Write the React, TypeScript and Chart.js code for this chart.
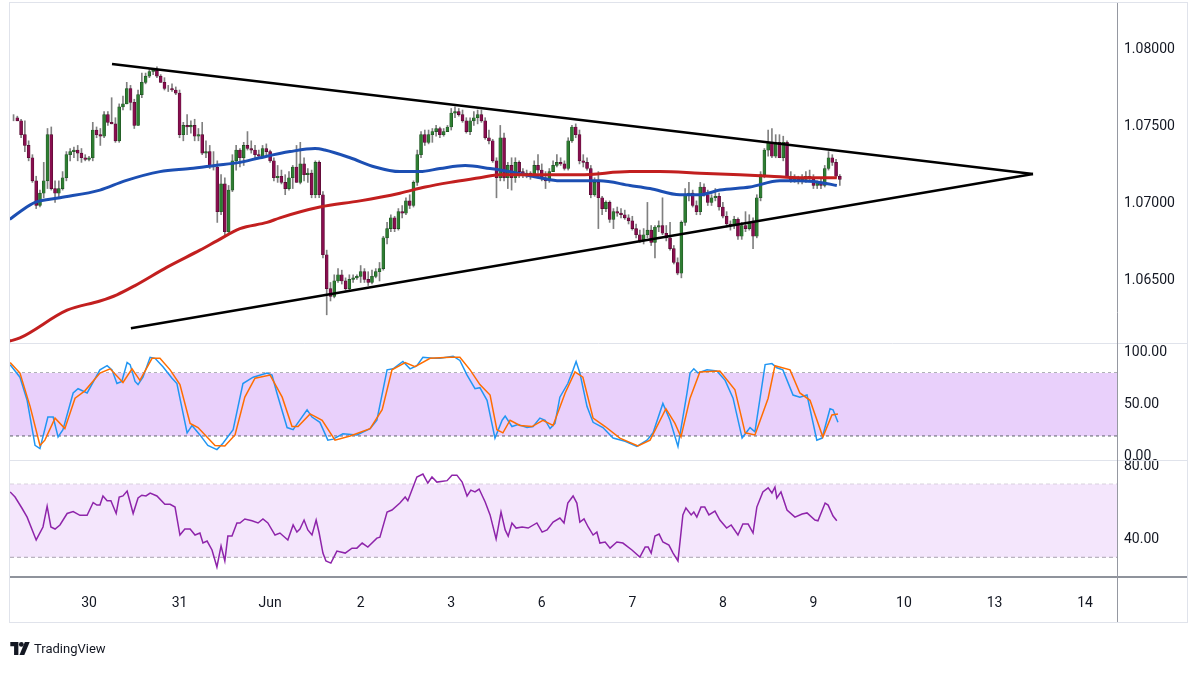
import React, { useEffect, useRef } from 'react';
import { Chart, registerables } from 'chart.js';

Chart.register(...registerables);

// ---------- axis ranges (hours since 30 May 00:00) ----------
const X_MIN = -20.94;
const X_MAX = 272.46;
const PRICE_MIN = 1.06097;
const PRICE_MAX = 1.08305;
const STOCH_MIN = -2.9;
const STOCH_MAX = 108.6;
const RSI_MIN = 19.2;
const RSI_MAX = 83.3;

// ---------- tick labels ----------
const dayTickHours = [0, 24, 48, 72, 96, 120, 144, 168, 192, 216, 240, 264];
const dayLabels = ['30', '31', 'Jun', '2', '3', '6', '7', '8', '9', '10', '13', '14'];
const priceTicks = [1.065, 1.07, 1.075, 1.08];
const stochTicks = [0, 50, 100];
const rsiTicks = [40, 80];

// ---------- hourly candles [open, high, low, close], first candle at hour -20 ----------
const firstCandleHour = -20;
const candles: number[][] = [
  [1.0756,1.0758,1.0754,1.0756],[1.0756,1.0757,1.0754,1.0754],[1.0754,1.0755,1.0743,1.0745],[1.0745,1.0754,1.0734,1.0738],
  [1.0738,1.0741,1.0728,1.0730],[1.0730,1.0732,1.0714,1.0715],[1.0715,1.0718,1.0697,1.0699],[1.0699,1.0709,1.0698,1.0707],
  [1.0707,1.0727,1.0704,1.0715],[1.0715,1.0749,1.0710,1.0745],[1.0745,1.0750,1.0709,1.0710],[1.0710,1.0715,1.0701,1.0707],
  [1.0707,1.0715,1.0704,1.0710],[1.0710,1.0721,1.0709,1.0717],[1.0717,1.0734,1.0715,1.0732],[1.0732,1.0736,1.0728,1.0734],
  [1.0734,1.0737,1.0730,1.0735],[1.0735,1.0738,1.0728,1.0733],[1.0733,1.0736,1.0727,1.0730],[1.0730,1.0732,1.0728,1.0729],
  [1.0729,1.0731,1.0728,1.0730],[1.0730,1.0753,1.0728,1.0748],[1.0748,1.0750,1.0743,1.0745],[1.0745,1.0749,1.0738,1.0744],
  [1.0744,1.0760,1.0743,1.0758],[1.0758,1.0760,1.0751,1.0753],[1.0753,1.0769,1.0752,1.0752],[1.0752,1.0756,1.0740,1.0741],
  [1.0741,1.0765,1.0740,1.0763],[1.0763,1.0770,1.0761,1.0765],[1.0765,1.0779,1.0765,1.0775],[1.0775,1.0777,1.0761,1.0766],
  [1.0766,1.0768,1.0749,1.0751],[1.0751,1.0774,1.0751,1.0771],[1.0771,1.0785,1.0769,1.0779],[1.0779,1.0785,1.0778,1.0783],
  [1.0783,1.0788,1.0782,1.0786],[1.0786,1.0788,1.0784,1.0787],[1.0787,1.0789,1.0782,1.0783],[1.0783,1.0784,1.0779,1.0779],
  [1.0779,1.0782,1.0774,1.0775],[1.0775,1.0777,1.0773,1.0775],[1.0775,1.0778,1.0773,1.0774],[1.0774,1.0776,1.0771,1.0772],
  [1.0772,1.0774,1.0743,1.0745],[1.0745,1.0753,1.0741,1.0751],[1.0751,1.0758,1.0745,1.0750],[1.0750,1.0754,1.0746,1.0751],
  [1.0751,1.0755,1.0741,1.0744],[1.0744,1.0749,1.0741,1.0745],[1.0745,1.0753,1.0732,1.0733],[1.0733,1.0741,1.0730,1.0734],
  [1.0734,1.0738,1.0723,1.0725],[1.0725,1.0734,1.0722,1.0724],[1.0724,1.0728,1.0688,1.0695],[1.0695,1.0719,1.0693,1.0713],
  [1.0713,1.0717,1.0680,1.0682],[1.0682,1.0712,1.0680,1.0709],[1.0709,1.0732,1.0708,1.0728],[1.0728,1.0738,1.0722,1.0735],
  [1.0735,1.0736,1.0724,1.0730],[1.0730,1.0740,1.0725,1.0738],[1.0738,1.0747,1.0735,1.0736],[1.0736,1.0741,1.0733,1.0735],
  [1.0735,1.0738,1.0730,1.0732],[1.0732,1.0735,1.0730,1.0731],[1.0731,1.0738,1.0730,1.0736],[1.0736,1.0739,1.0732,1.0734],
  [1.0734,1.0735,1.0727,1.0728],[1.0728,1.0730,1.0715,1.0717],[1.0717,1.0725,1.0714,1.0718],[1.0718,1.0722,1.0713,1.0714],
  [1.0714,1.0719,1.0706,1.0710],[1.0710,1.0721,1.0709,1.0717],[1.0717,1.0725,1.0710,1.0724],[1.0724,1.0738,1.0714,1.0714],
  [1.0714,1.0740,1.0713,1.0726],[1.0726,1.0730,1.0715,1.0719],[1.0719,1.0723,1.0714,1.0720],[1.0720,1.0722,1.0704,1.0706],
  [1.0706,1.0728,1.0704,1.0727],[1.0727,1.0728,1.0704,1.0706],[1.0706,1.0708,1.0665,1.0667],[1.0667,1.0670,1.0628,1.0645],
  [1.0645,1.0649,1.0637,1.0640],[1.0640,1.0654,1.0639,1.0650],[1.0650,1.0658,1.0649,1.0654],[1.0654,1.0657,1.0648,1.0650],
  [1.0650,1.0652,1.0644,1.0645],[1.0645,1.0654,1.0644,1.0651],[1.0651,1.0654,1.0649,1.0652],[1.0652,1.0654,1.0651,1.0653],
  [1.0653,1.0660,1.0649,1.0656],[1.0656,1.0658,1.0649,1.0651],[1.0651,1.0656,1.0647,1.0649],[1.0649,1.0657,1.0648,1.0653],
  [1.0653,1.0658,1.0652,1.0656],[1.0656,1.0662,1.0650,1.0658],[1.0658,1.0679,1.0657,1.0678],[1.0678,1.0688,1.0674,1.0684],
  [1.0684,1.0693,1.0682,1.0691],[1.0691,1.0692,1.0682,1.0684],[1.0684,1.0697,1.0683,1.0695],[1.0695,1.0699,1.0691,1.0694],
  [1.0694,1.0704,1.0693,1.0702],[1.0702,1.0706,1.0697,1.0699],[1.0699,1.0715,1.0698,1.0714],[1.0714,1.0735,1.0712,1.0732],
  [1.0732,1.0747,1.0730,1.0745],[1.0745,1.0748,1.0738,1.0740],[1.0740,1.0748,1.0739,1.0745],[1.0745,1.0749,1.0740,1.0747],
  [1.0747,1.0751,1.0744,1.0749],[1.0749,1.0750,1.0743,1.0745],[1.0745,1.0749,1.0744,1.0747],[1.0747,1.0751,1.0747,1.0750],
  [1.0750,1.0762,1.0748,1.0759],[1.0759,1.0763,1.0756,1.0760],[1.0760,1.0762,1.0757,1.0758],[1.0758,1.0761,1.0753,1.0754],
  [1.0754,1.0756,1.0746,1.0747],[1.0747,1.0756,1.0745,1.0754],[1.0754,1.0760,1.0751,1.0756],[1.0756,1.0761,1.0752,1.0758],
  [1.0758,1.0761,1.0753,1.0754],[1.0754,1.0756,1.0742,1.0743],[1.0743,1.0748,1.0739,1.0741],[1.0741,1.0742,1.0727,1.0728],
  [1.0728,1.0730,1.0704,1.0717],[1.0717,1.0751,1.0715,1.0743],[1.0743,1.0746,1.0715,1.0717],[1.0717,1.0727,1.0710,1.0725],
  [1.0725,1.0730,1.0709,1.0717],[1.0717,1.0730,1.0714,1.0727],[1.0727,1.0728,1.0717,1.0721],[1.0721,1.0723,1.0717,1.0719],
  [1.0719,1.0722,1.0717,1.0720],[1.0720,1.0721,1.0716,1.0718],[1.0718,1.0728,1.0717,1.0725],[1.0725,1.0732,1.0720,1.0722],
  [1.0722,1.0726,1.0715,1.0717],[1.0717,1.0721,1.0710,1.0715],[1.0715,1.0723,1.0714,1.0721],[1.0721,1.0728,1.0721,1.0725],
  [1.0725,1.0732,1.0724,1.0727],[1.0727,1.0730,1.0725,1.0726],[1.0726,1.0728,1.0722,1.0723],[1.0723,1.0743,1.0722,1.0741],
  [1.0741,1.0751,1.0740,1.0750],[1.0750,1.0752,1.0743,1.0745],[1.0745,1.0748,1.0726,1.0728],[1.0728,1.0732,1.0724,1.0727],
  [1.0727,1.0730,1.0722,1.0723],[1.0723,1.0725,1.0704,1.0706],[1.0706,1.0717,1.0705,1.0714],[1.0714,1.0721,1.0684,1.0704],
  [1.0704,1.0705,1.0693,1.0697],[1.0697,1.0702,1.0695,1.0701],[1.0701,1.0702,1.0688,1.0690],[1.0690,1.0697,1.0684,1.0695],
  [1.0695,1.0698,1.0692,1.0694],[1.0694,1.0697,1.0691,1.0693],[1.0693,1.0696,1.0690,1.0691],[1.0691,1.0693,1.0687,1.0689],
  [1.0689,1.0692,1.0683,1.0684],[1.0684,1.0687,1.0678,1.0680],[1.0680,1.0683,1.0675,1.0676],[1.0676,1.0684,1.0674,1.0680],
  [1.0680,1.0701,1.0678,1.0683],[1.0683,1.0686,1.0673,1.0675],[1.0675,1.0686,1.0665,1.0685],[1.0685,1.0689,1.0682,1.0686],
  [1.0686,1.0704,1.0680,1.0681],[1.0681,1.0686,1.0676,1.0678],[1.0678,1.0688,1.0670,1.0671],[1.0671,1.0673,1.0661,1.0662],
  [1.0662,1.0665,1.0654,1.0655],[1.0655,1.0689,1.0652,1.0688],[1.0688,1.0710,1.0686,1.0706],[1.0706,1.0714,1.0702,1.0707],
  [1.0707,1.0709,1.0698,1.0699],[1.0699,1.0702,1.0693,1.0695],[1.0695,1.0714,1.0693,1.0711],[1.0711,1.0713,1.0705,1.0706],
  [1.0706,1.0709,1.0699,1.0701],[1.0701,1.0706,1.0699,1.0704],[1.0704,1.0710,1.0702,1.0705],[1.0705,1.0707,1.0696,1.0698],
  [1.0698,1.0701,1.0691,1.0692],[1.0692,1.0695,1.0685,1.0687],[1.0687,1.0689,1.0683,1.0686],[1.0686,1.0692,1.0684,1.0690],
  [1.0690,1.0691,1.0677,1.0679],[1.0679,1.0688,1.0677,1.0686],[1.0686,1.0695,1.0682,1.0684],[1.0684,1.0693,1.0683,1.0688],
  [1.0688,1.0691,1.0671,1.0679],[1.0679,1.0706,1.0678,1.0704],[1.0704,1.0721,1.0702,1.0719],[1.0719,1.0736,1.0717,1.0735],
  [1.0735,1.0748,1.0731,1.0740],[1.0740,1.0749,1.0730,1.0731],[1.0731,1.0745,1.0730,1.0740],[1.0740,1.0745,1.0730,1.0730],
  [1.0730,1.0744,1.0728,1.0740],[1.0740,1.0741,1.0717,1.0718],[1.0718,1.0721,1.0714,1.0715],[1.0715,1.0719,1.0714,1.0717],
  [1.0717,1.0718,1.0713,1.0715],[1.0715,1.0719,1.0713,1.0716],[1.0716,1.0721,1.0714,1.0718],[1.0718,1.0722,1.0715,1.0717],
  [1.0717,1.0719,1.0710,1.0712],[1.0712,1.0715,1.0710,1.0714],[1.0714,1.0717,1.0710,1.0712],[1.0712,1.0725,1.0711,1.0723],
  [1.0723,1.0734,1.0722,1.0730],[1.0730,1.0732,1.0725,1.0727],[1.0727,1.0729,1.0717,1.0718],[1.0718,1.0719,1.0712,1.0716],
];

// ---------- moving averages ----------
const blueMaHours = [-21, -18.3, -14.3, -7.7, 2.9, 9.5, 18.8, 26.8, 33.4, 40, 45.3, 53.3, 59.9, 62.5, 69.2, 75.8, 82.4, 87.7, 93, 99.7, 106.3, 111.6, 119.5, 124.8, 135.4, 143.4, 148.7, 156.6, 161.9, 167.2, 175.2, 183.1, 188.4, 193.7, 198.2];
const blueMaValues = [1.0690, 1.0695, 1.0701, 1.0704, 1.0709, 1.0715, 1.0721, 1.0723, 1.0725, 1.0727, 1.0730, 1.0734, 1.0736, 1.0735, 1.0730, 1.0724, 1.0721, 1.0721, 1.0723, 1.0725, 1.0723, 1.0721, 1.0717, 1.0715, 1.0715, 1.0712, 1.0710, 1.0706, 1.0706, 1.0709, 1.0711, 1.0715, 1.0715, 1.0714, 1.0712];
const redMaHours = [-21, -18.3, -5.8, 2.9, 7.4, 12.2, 20.7, 29.4, 33.9, 40, 47.2, 50.6, 61.2, 71.8, 82.4, 89.1, 95.7, 103.6, 108.9, 119.5, 130.1, 143.4, 151.3, 161.9, 172.5, 180.5, 188.4, 198.2];
const redMaValues = [1.0611, 1.0613, 1.0631, 1.0637, 1.0641, 1.0647, 1.0659, 1.0670, 1.0676, 1.0684, 1.0688, 1.0691, 1.0698, 1.0702, 1.0707, 1.0711, 1.0714, 1.0717, 1.0719, 1.0719, 1.0719, 1.0721, 1.0721, 1.0720, 1.0719, 1.0718, 1.0717, 1.0717];

// ---------- triangle trendlines ----------
const upperTrendHours = [6.1, 250.2];
const upperTrendValues = [1.07909, 1.07195];
const lowerTrendHours = [11.1, 250.2];
const lowerTrendValues = [1.06193, 1.07195];

// ---------- stochastic ----------
const stochKHours = [-20.9, -18.3, -16.4, -14.3, -13.0, -10.9, -9.5, -8.2, -6.9, -4.2, -2.9, -0.5, 2.9, 4.8, 6.1, 7.4, 8.7, 10.1, 10.9, 12.2, 13.0, 14.3, 16.2, 17.5, 19.6, 22.0, 23.3, 26.0, 27.3, 29.4, 31.5, 33.9, 35.5, 38.2, 39.5, 40.8, 43.5, 47.2, 48.5, 49.8, 52.5, 54.1, 57.8, 59.1, 61.2, 63.3, 64.7, 67.3, 71.0, 74.5, 76.3, 79.0, 80.6, 83.2, 85.1, 86.9, 88.5, 91.2, 93.0, 96.5, 98.3, 100.2, 102.3, 103.6, 105.5, 107.6, 109.5, 110.3, 112.1, 113.7, 116.1, 117.7, 119.5, 120.9, 122.2, 123.5, 124.8, 126.9, 128.3, 129.1, 130.1, 132.0, 133.6, 136.2, 138.9, 142.1, 145.2, 147.9, 149.5, 152.1, 154.0, 156.1, 158.5, 159.3, 160.3, 161.4, 163.8, 166.4, 168.6, 170.7, 173.1, 175.2, 176.5, 179.2, 181.0, 182.3, 183.9, 186.6, 188.4, 190.3, 192.9, 194.3, 196.4, 197.2, 198.5];
const stochKValues = [88, 76, 54, 11, 8, 38, 38, 19, 26, 61, 65, 61, 83, 87, 83, 70, 72, 90, 88, 72, 69, 76, 95, 94, 86, 75, 70, 23, 30, 21, 11, 7, 13, 26, 48, 70, 76, 80, 78, 61, 28, 26, 45, 38, 33, 16, 17, 22, 21, 27, 35, 83, 84, 91, 84, 87, 95, 94, 94, 96, 92, 78, 65, 66, 54, 18, 35, 39, 29, 31, 28, 29, 37, 35, 27, 32, 57, 70, 83, 91, 80, 48, 33, 28, 18, 15, 10, 16, 23, 51, 35, 10, 61, 80, 84, 80, 83, 82, 73, 56, 18, 28, 24, 88, 89, 85, 83, 59, 57, 59, 16, 18, 46, 45, 33];
const stochDHours = [-20.9, -18.3, -15.6, -13.0, -11.7, -9.0, -6.4, -3.7, -1.1, 2.9, 5.6, 7.7, 9.0, 11.4, 13.5, 16.7, 18.8, 21.5, 24.1, 26.8, 28.9, 33.4, 36.0, 38.7, 41.3, 44.0, 48.0, 51.2, 53.8, 55.4, 58.6, 61.8, 65.2, 69.2, 74.5, 77.7, 80.3, 83.8, 86.4, 90.4, 95.7, 98.3, 101.0, 103.6, 106.3, 108.1, 109.7, 111.6, 114.2, 117.4, 120.3, 123.0, 126.2, 128.8, 130.9, 133.6, 136.8, 140.7, 145.5, 148.7, 152.9, 155.3, 156.9, 159.3, 161.9, 167.2, 171.2, 173.9, 176.5, 180.0, 181.8, 185.8, 188.4, 191.1, 194.5, 196.9, 198.5];
const stochDValues = [90, 80, 48, 11, 16, 37, 27, 56, 63, 80, 84, 76, 71, 84, 73, 94, 94, 83, 69, 32, 28, 11, 10.5, 21, 57, 75, 78, 57, 29, 29, 41, 35, 16, 20, 27, 45, 83, 90, 86, 94, 95, 95, 83, 69, 59, 26, 23, 35, 30, 29, 35, 30, 61, 81, 76, 37, 29, 18, 10.5, 16, 46, 32, 19, 56, 81, 82, 64, 23, 21, 56, 87, 83, 61, 54, 19, 40, 41];
const stochUpper = 80;
const stochLower = 20;

// ---------- RSI ----------
const rsiHours = [-20.9, -19.6, -17.8, -16.4, -14.0, -12.2, -11.1, -10.1, -9.0, -7.7, -5.8, -4.2, -2.4, -0.5, 1.1, 2.1, 2.9, 3.7, 4.8, 5.8, 7.2, 8.0, 9.0, 10.1, 11.7, 13.0, 14.0, 15.1, 16.2, 18.0, 20.1, 21.5, 22.8, 24.1, 25.4, 26.8, 28.1, 29.4, 30.2, 31.3, 32.6, 33.9, 35.0, 36.0, 36.8, 37.9, 39.2, 40.0, 41.3, 43.2, 44.8, 46.1, 47.4, 49.3, 50.6, 52.7, 54.1, 55.1, 55.9, 57.0, 58.0, 59.1, 60.2, 61.0, 62.0, 62.8, 64.1, 65.7, 67.9, 69.7, 71.0, 72.4, 73.9, 76.3, 77.1, 79.0, 80.3, 82.4, 83.8, 84.5, 86.9, 88.5, 89.8, 90.9, 92.2, 94.9, 96.2, 97.5, 98.9, 100.2, 101.2, 102.3, 103.4, 105.0, 106.3, 107.9, 109.2, 110.3, 111.1, 112.1, 113.2, 114.8, 116.4, 118.7, 120.1, 121.4, 123.0, 124.8, 125.9, 126.9, 128.3, 129.3, 130.1, 131.2, 132.3, 133.6, 134.6, 135.4, 136.8, 138.1, 139.9, 141.5, 143.9, 146.0, 147.4, 148.2, 149.0, 150.0, 151.1, 152.1, 153.7, 154.8, 156.1, 157.4, 158.2, 159.6, 160.3, 161.1, 162.2, 163.2, 164.3, 165.9, 167.2, 169.0, 170.2, 172.0, 173.3, 174.7, 176.0, 177.0, 178.6, 180.0, 181.0, 181.8, 182.3, 183.4, 185.0, 187.1, 189.0, 190.3, 192.4, 193.2, 195.1, 195.9, 197.2, 198.2];
const rsiValues = [65.8, 63, 57, 52, 39.5, 46.6, 58, 46.6, 45.5, 47.7, 54, 55, 53, 53, 60, 58.6, 58.6, 63.6, 61, 61, 54, 63, 63.6, 66.3, 54, 62.5, 64, 63.6, 65.2, 63.6, 59, 59, 57.5, 42.2, 45.5, 45.5, 42.2, 43.3, 37.8, 38.9, 34, 24.7, 36.2, 28, 41.6, 41.6, 48.8, 48.8, 51, 50, 48.8, 51, 48.8, 42.2, 43.3, 39.5, 47.7, 43.8, 45.5, 50.4, 45, 42.2, 50.4, 43.3, 32.3, 28, 26.8, 33.4, 32.3, 35, 35, 37.8, 35.6, 40.5, 41, 54.8, 55.9, 59.7, 63, 61, 74, 75.6, 70.7, 74, 71.2, 72, 75, 75, 71.2, 63.6, 66.8, 65.8, 67.4, 60.3, 53.2, 40, 54.8, 45, 41.6, 48.8, 46, 46.6, 46, 48.8, 43.8, 45, 49.3, 51.5, 48.8, 59.7, 63.6, 59.7, 49.3, 51, 46.6, 42.2, 43.8, 37.8, 38.4, 35, 38.4, 37.8, 34, 30.1, 35.6, 35.6, 32.3, 41.6, 42.7, 38.4, 36.7, 32.3, 28, 53.2, 57, 53.2, 54.8, 52, 57.5, 57.5, 53.2, 55.3, 50.4, 46, 47.7, 42.2, 48.2, 48.2, 43.3, 57.5, 65.8, 68, 65.2, 68.5, 62.5, 65.8, 55.9, 52, 53.7, 54.3, 50.4, 50, 59.7, 58.6, 52.6, 50];
const rsiUpper = 70;
const rsiLower = 30;

// ---------- styling ----------
const FONT = 'Roboto, "Liberation Sans", sans-serif';
const TEXT = '#131722';
const UP = '#2E7D32';
const DOWN = '#880E4F';
const UP_BORDER = '#1C4F20';
const DOWN_BORDER = '#4E0A2C';

const pts = (xs: number[], ys: number[]) => xs.map((x, i) => ({ x, y: ys[i] }));

const framePlugin = {
  id: 'tvFrame',
  afterDraw(chart: any) {
    const { ctx, chartArea } = chart;
    const sx = chart.scales.x;
    const yp = chart.scales.yPrice;
    const ys = chart.scales.yStoch;
    const yr = chart.scales.yRsi;
    const left = chartArea.left;
    const right = yp.right;
    ctx.save();
    ctx.strokeStyle = '#E0E3EB';
    ctx.lineWidth = 1;
    ctx.strokeRect(left - 0.5, chartArea.top - 0.5, right - left + 1, sx.bottom - chartArea.top + 1);
    ctx.beginPath();
    ctx.moveTo(left, ys.top + 0.5);
    ctx.lineTo(right, ys.top + 0.5);
    ctx.moveTo(left, yr.top + 0.5);
    ctx.lineTo(right, yr.top + 0.5);
    ctx.stroke();
    ctx.strokeStyle = '#8F939C';
    ctx.lineWidth = 2;
    ctx.beginPath();
    ctx.moveTo(left, sx.top);
    ctx.lineTo(right, sx.top);
    ctx.stroke();
    ctx.strokeStyle = '#9598A1';
    ctx.lineWidth = 1;
    ctx.beginPath();
    ctx.moveTo(chartArea.right + 0.5, chartArea.top);
    ctx.lineTo(chartArea.right + 0.5, sx.bottom);
    ctx.stroke();
    ctx.restore();
  },
};

export default function App() {
  const ref = useRef<HTMLCanvasElement>(null);

  useEffect(() => {
    document.body.style.margin = '0';
    const hours = candles.map((_, i) => firstCandleHour + i);
    const wickData = candles.map((c, i) => ({ x: hours[i], y: [c[2], c[1]] }));
    const bodyData = candles.map((c, i) => ({ x: hours[i], y: [Math.min(c[0], c[3]), Math.max(c[0], c[3])] }));
    const bodyColors = candles.map((c) => (c[3] >= c[0] ? UP : DOWN));
    const bodyBorders = candles.map((c) => (c[3] >= c[0] ? UP_BORDER : DOWN_BORDER));

    const tickFont = { family: FONT, size: 14 };
    const yCommon = (min: number, max: number, weight: number, tickVals: number[], digits: number) => ({
      type: 'linear',
      position: 'right',
      stack: 'panes',
      stackWeight: weight,
      min,
      max,
      grid: { display: false, drawTicks: false },
      border: { display: false },
      ticks: {
        color: TEXT,
        font: tickFont,
        padding: 7,
        autoSkip: false,
        callback: (v: any) => Number(v).toFixed(digits),
      },
      afterBuildTicks: (s: any) => {
        s.ticks = tickVals.map((v) => ({ value: v }));
      },
      afterFit: (s: any) => {
        s.width = 70;
        s.paddingTop = 0;
        s.paddingBottom = 0;
      },
    });

    const line = (data: any[], color: string, width: number, axis: string, order: number, extra: any = {}) => ({
      type: 'line',
      data,
      borderColor: color,
      borderWidth: width,
      pointRadius: 0,
      fill: false,
      tension: 0,
      yAxisID: axis,
      order,
      ...extra,
    });

    const chart = new Chart(ref.current as HTMLCanvasElement, {
      type: 'bar',
      data: {
        datasets: [
          // stochastic band
          line(pts([X_MIN, X_MAX], [stochUpper, stochUpper]), '#5D606B', 1, 'yStoch', 21, { borderDash: [3, 3] }),
          line(pts([X_MIN, X_MAX], [stochLower, stochLower]), '#5D606B', 1, 'yStoch', 20, {
            borderDash: [3, 3],
            fill: { value: stochUpper },
            backgroundColor: '#E9D0FB',
          }),
          line(pts(stochKHours, stochKValues), '#2196F3', 1.5, 'yStoch', 11),
          line(pts(stochDHours, stochDValues), '#FF6D00', 1.5, 'yStoch', 10),
          // RSI band
          line(pts([X_MIN, X_MAX], [rsiUpper, rsiUpper]), '#A9A3B0', 1, 'yRsi', 21, { borderDash: [4, 3] }),
          line(pts([X_MIN, X_MAX], [rsiLower, rsiLower]), '#A9A3B0', 1, 'yRsi', 20, {
            borderDash: [4, 3],
            fill: { value: rsiUpper },
            backgroundColor: '#F4E6FC',
          }),
          line(pts(rsiHours, rsiValues), '#8E24AA', 1.5, 'yRsi', 10),
          // candles
          {
            type: 'bar',
            data: wickData,
            backgroundColor: '#808080',
            borderWidth: 0,
            barThickness: 1,
            grouped: false,
            yAxisID: 'yPrice',
            order: 8,
          },
          {
            type: 'bar',
            data: bodyData,
            backgroundColor: bodyColors,
            borderColor: bodyBorders,
            borderWidth: 0.6,
            borderSkipped: false,
            barThickness: 3,
            grouped: false,
            yAxisID: 'yPrice',
            order: 7,
          },
          // moving averages
          line(pts(blueMaHours, blueMaValues), '#1C4FB3', 3, 'yPrice', 4, { cubicInterpolationMode: 'monotone' }),
          line(pts(redMaHours, redMaValues), '#C21F1F', 3, 'yPrice', 3, { cubicInterpolationMode: 'monotone' }),
          // trendlines
          line(pts(upperTrendHours, upperTrendValues), '#000000', 2.5, 'yPrice', 1),
          line(pts(lowerTrendHours, lowerTrendValues), '#000000', 2.5, 'yPrice', 1),
        ] as any,
      },
      options: {
        responsive: false,
        animation: false,
        events: [],
        layout: { padding: { left: 10, top: 3, right: 13, bottom: 53 } },
        plugins: { legend: { display: false }, tooltip: { enabled: false } },
        scales: {
          x: {
            type: 'linear',
            min: X_MIN,
            max: X_MAX,
            offset: false,
            grid: { display: false, drawTicks: false },
            border: { display: false },
            ticks: {
              color: TEXT,
              font: tickFont,
              padding: 18,
              maxRotation: 0,
              autoSkip: false,
              callback: (_v: any, i: number) => dayLabels[i],
            },
            afterBuildTicks: (s: any) => {
              s.ticks = dayTickHours.map((v) => ({ value: v }));
            },
            afterFit: (s: any) => {
              s.height = 45;
              s.paddingLeft = 0;
              s.paddingRight = 0;
            },
          },
          yPrice: yCommon(PRICE_MIN, PRICE_MAX, 340, priceTicks, 5),
          yStoch: yCommon(STOCH_MIN, STOCH_MAX, 117, stochTicks, 2),
          yRsi: yCommon(RSI_MIN, RSI_MAX, 117, rsiTicks, 2),
        } as any,
      },
      plugins: [framePlugin],
    } as any);
    return () => chart.destroy();
  }, []);

  return (
    <div style={{ position: 'absolute', left: 0, top: 0, width: 1200, height: 675, background: '#ffffff', overflow: 'hidden' }}>
      <canvas ref={ref} width={1200} height={675} style={{ display: 'block' }} />
      <div
        style={{
          position: 'absolute',
          left: 10,
          top: 641,
          display: 'flex',
          alignItems: 'center',
          gap: 4,
          fontFamily: FONT,
          fontSize: 13,
          color: TEXT,
          lineHeight: '16px',
        }}
      >
        <svg width={20} height={14} viewBox="0 0 36 26">
          <path d="M0 0h15v24H7V8H0z" fill={TEXT} />
          <circle cx="20.5" cy="4.5" r="4.5" fill={TEXT} />
          <path d="M27 0h9L26 24h-9z" fill={TEXT} />
        </svg>
        <span>TradingView</span>
      </div>
    </div>
  );
}
